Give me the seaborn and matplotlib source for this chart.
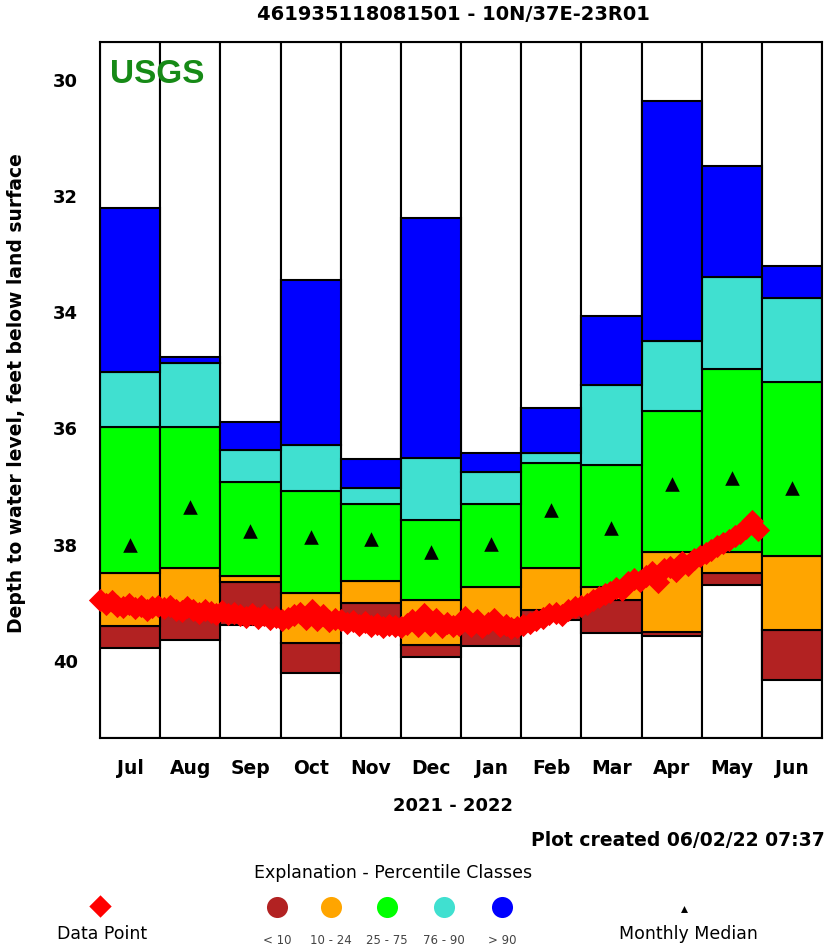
import numpy as np
import pandas as pd
import matplotlib
matplotlib.use("Agg")
import matplotlib.pyplot as plt
import seaborn as sns

# ---------------- data ----------------
months = ["Jul", "Aug", "Sep", "Oct", "Nov", "Dec", "Jan", "Feb", "Mar", "Apr", "May", "Jun"]
# percentile class boundaries (feet below land surface)
p_max = [32.20, 34.77, 35.89, 33.44, 36.52, 32.38, 36.42, 35.65, 34.06, 30.36, 31.48, 33.20]
p90 = [35.03, 34.87, 36.37, 36.28, 37.02, 36.51, 36.76, 36.42, 35.25, 34.49, 33.39, 33.75]
p75 = [35.97, 35.97, 36.92, 37.07, 37.30, 37.57, 37.30, 36.59, 36.63, 35.70, 34.97, 35.21]
p25 = [38.49, 38.40, 38.55, 38.83, 38.62, 38.95, 38.73, 38.40, 38.73, 38.12, 38.12, 38.19]
p10 = [39.40, 39.12, 38.64, 39.69, 39.00, 39.73, 39.30, 39.12, 38.95, 39.50, 38.49, 39.47]
p_min = [39.78, 39.64, 39.38, 40.21, 39.45, 39.93, 39.74, 39.30, 39.52, 39.57, 38.69, 40.34]
median = [38.00, 37.35, 37.76, 37.87, 37.90, 38.12, 37.99, 37.40, 37.71, 36.95, 36.85, 37.02]

# measured water levels, every 3 days starting 2021-07-01
start_date = "2021-07-01"
levels = [
    38.95, 39.02, 38.98, 39.05, 39.08, 39.02, 39.10, 39.06, 39.12, 39.08, 39.05,
    39.10, 39.06, 39.12, 39.15, 39.08, 39.13, 39.18, 39.12, 39.16, 39.20,
    39.15, 39.20, 39.18, 39.22, 39.25, 39.20, 39.26, 39.22, 39.28, 39.25,
    39.30, 39.26, 39.22, 39.18, 39.28, 39.12, 39.30, 39.22, 39.32, 39.28,
    39.30, 39.35, 39.32, 39.38, 39.33, 39.40, 39.36, 39.42, 39.38, 39.40,
    39.42, 39.36, 39.30, 39.40, 39.20, 39.38, 39.28, 39.42, 39.35, 39.40,
    39.38, 39.25, 39.40, 39.30, 39.42, 39.35, 39.28, 39.40, 39.38, 39.44,
    39.42, 39.38, 39.35, 39.30, 39.26, 39.20, 39.18, 39.22, 39.12, 39.08,
    39.05, 39.02, 38.95, 38.90, 38.85, 38.82, 38.75, 38.78, 38.65, 38.60,
    38.62, 38.55, 38.48, 38.65, 38.42, 38.38, 38.45, 38.30, 38.35, 38.25,
    38.20, 38.15, 38.10, 38.02, 37.98, 37.92, 37.85, 37.80, 37.72, 37.60, 37.75,
]

title = "461935118081501 - 10N/37E-23R01"
class_colors = ["#b22222", "#ffa500", "#00ff00", "#40e0d0", "#0000ff"]
class_labels = ["< 10", "10 - 24", "25 - 75", "76 - 90", "> 90"]

# ---------------- figure ----------------
sns.set_style("white")
plt.rcParams["font.family"] = ["DejaVu Sans"]
plt.rcParams["text.color"] = "black"
plt.rcParams["axes.labelcolor"] = "black"
plt.rcParams["xtick.color"] = "black"
plt.rcParams["ytick.color"] = "black"

fig = plt.figure(figsize=(8.3, 9.51), dpi=100)
ax = fig.add_axes([100 / 830, 1 - 738 / 951, 722 / 830, 696 / 951])

ymin, ymax = 41.33, 29.35
x = np.arange(len(months)) + 0.5

# full white column with border
ax.bar(x, [ymin - ymax] * 12, bottom=[ymax] * 12, width=1.0, color="white",
       edgecolor="black", linewidth=1.5, zorder=1)
segs = [(p10, p_min), (p25, p10), (p75, p25), (p90, p75), (p_max, p90)]
for (top, bot), c in zip(segs, class_colors):
    top = np.array(top)
    bot = np.array(bot)
    ax.bar(x, bot - top, bottom=top, width=1.0, color=c, edgecolor="black",
           linewidth=1.5, zorder=2)

# medians
med_df = pd.DataFrame({"x": x, "median": median})
sns.scatterplot(data=med_df, x="x", y="median", marker="^", color="black",
                s=110, edgecolor="black", linewidth=0, ax=ax, zorder=4)

# data points
dates = pd.date_range(start_date, periods=len(levels), freq="3D")
month_order = [7, 8, 9, 10, 11, 12, 1, 2, 3, 4, 5, 6]
mi = np.array([month_order.index(d.month) for d in dates])
xpos = mi + (dates.day.values - 1) / dates.days_in_month.values
pts = pd.DataFrame({"x": xpos, "level": levels})
sns.scatterplot(data=pts, x="x", y="level", marker="D", color="#ff0000",
                s=140, linewidth=0, ax=ax, zorder=5)
for coll in ax.collections:
    coll.set_clip_on(False)

ax.set_xlim(0, 12)
ax.set_ylim(ymin, ymax)
ax.set_xticks(x)
ax.set_xticklabels(months, fontsize=13.5, fontweight="bold")
ax.set_yticks([30, 32, 34, 36, 38, 40])
ax.set_yticklabels(["30", "32", "34", "36", "38", "40"], fontsize=13, fontweight="bold")
ax.tick_params(axis="both", length=0)
ax.tick_params(axis="x", pad=15)
ax.tick_params(axis="y", pad=16)
ax.set_xlabel("")
ax.set_ylabel("Depth to water level, feet below land surface", fontsize=13.5,
              fontweight="bold")
ax.yaxis.set_label_coords(-74 / 722, (738 - 393) / 696)
for sp in ax.spines.values():
    sp.set_linewidth(1.5)
    sp.set_color("black")

ax.text(0.17, 29.91, "USGS", color="#168a16", fontsize=24, fontweight="bold",
        family="Liberation Sans", va="center", ha="left", zorder=6)

fig.text(453 / 830, 1 - 14 / 951, title, ha="center", va="center",
         fontsize=14, fontweight="bold")
fig.text(453 / 830, 1 - 806 / 951, "2021 - 2022", ha="center", va="center",
         fontsize=13, fontweight="bold")
fig.text(825 / 830, 1 - 841 / 951, "Plot created 06/02/22 07:37", ha="right",
         va="center", fontsize=13.5, fontweight="bold")
fig.text(393 / 830, 1 - 873 / 951, "Explanation - Percentile Classes", ha="center",
         va="center", fontsize=12.5)

# legend row
lax = fig.add_axes([0, 0, 1, 1], facecolor="none")
lax.set_xlim(0, 830)
lax.set_ylim(951, 0)
lax.axis("off")
lax.scatter([100], [906], marker="D", s=130, color="#ff0000", linewidth=0)
lax.text(102, 934, "Data Point", ha="center", va="center", fontsize=12.5)
for xc, c, lab in zip([277, 331, 387, 444, 502], class_colors, class_labels):
    lax.scatter([xc], [907], marker="o", s=230, color=c, linewidth=0)
    lax.text(xc, 940, lab, ha="center", va="center", fontsize=8.5, color="#444444")
lax.scatter([684], [909], marker="^", s=25, color="black", linewidth=0)
lax.text(688, 934, "Monthly Median", ha="center", va="center", fontsize=12.5)

fig.savefig("out.png", dpi=100)
